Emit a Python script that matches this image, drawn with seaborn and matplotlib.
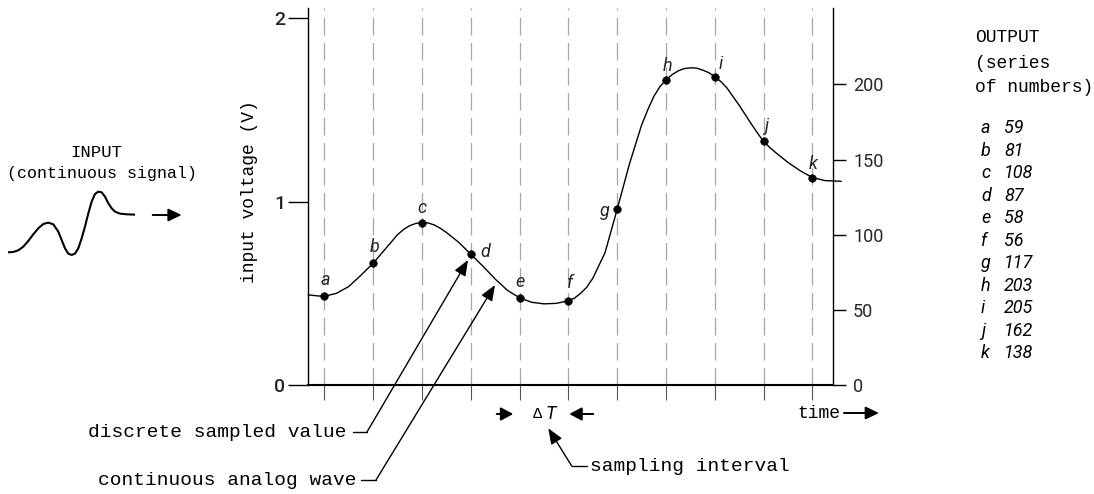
import numpy as np
import pandas as pd
import matplotlib
matplotlib.use("Agg")
import matplotlib.pyplot as plt
from matplotlib.lines import Line2D
import seaborn as sns

W, H = 1094, 494

# sampled values (right axis, counts)
labels = ["a", "b", "c", "d", "e", "f", "g", "h", "i", "j", "k"]
values = [59, 81, 108, 87, 58, 56, 117, 203, 205, 162, 138]

# continuous wave (sample index, counts)
wave_t = [0.67, 0.85, 1.0, 1.25, 1.5, 1.75, 2.0, 2.25, 2.5, 2.625, 2.75, 2.875, 3.0,
          3.125, 3.25, 3.375, 3.5, 3.75, 4.0, 4.25, 4.5, 4.75, 5.0, 5.25, 5.5, 5.75,
          6.0, 6.125, 6.25, 6.375, 6.5, 6.75, 7.0, 7.25, 7.5, 7.625, 7.75, 7.875, 8.0,
          8.125, 8.25, 8.375, 8.5, 8.625, 8.75, 8.875, 9.0, 9.125, 9.25, 9.5, 9.75,
          9.875, 10.0, 10.125, 10.25, 10.5, 10.75, 11.0, 11.25, 11.59]
wave_v = [60, 59.3, 59, 61, 65.5, 73, 81, 90.5, 100, 103.5, 106, 107.5, 108,
          107.8, 106.5, 104.3, 101.5, 95, 87, 79, 70.5, 63, 58, 55, 54, 54.3,
          56, 57.8, 61, 65, 71, 88, 117, 147, 173, 183, 192, 198.5, 203,
          206.5, 209, 210.5, 211, 210.8, 209.5, 207.8, 205, 201.8, 197.5, 186, 173.5,
          167.5, 162, 158, 154.5, 148, 142.5, 138, 136, 135.5]

# little input signal sketch on the left
signal_x = [25, 40, 55, 70, 85, 100, 115, 130, 145, 160, 175, 185, 195, 205, 215, 225,
            235, 245, 255, 265, 275, 285, 295, 305, 315, 325, 335, 345, 360, 380, 405]
signal_y = [8, 9, 14, 25, 42, 62, 80, 93, 97, 92, 70, 45, 20, 4, 0, 4,
            20, 50, 85, 125, 160, 183, 190, 188, 175, 155, 140, 130, 124, 122, 121]

volt_ticks = [0, 1, 2]
count_ticks = [0, 50, 100, 150, 200]

label_offsets = [(1, 16), (1, 16), (0, 15), (15, 2), (0, 16), (2, 18),
                 (-12, -2), (1, 14), (6, 13), (2, 15), (1, 14)]

samples = pd.DataFrame({"label": labels, "pos": range(1, len(labels) + 1), "value": values})

sns.set_theme(style="white")
plt.rcParams["font.family"] = ["Liberation Mono", "DejaVu Sans"]
SANS = ["Roboto", "DejaVu Sans"]

fig = plt.figure(figsize=(W / 100, H / 100), dpi=100)
fig.patch.set_facecolor("white")


def fx(x):
    return x / W


def fy(y):
    return 1 - y / H


ax = fig.add_axes([fx(308), fy(385), (833 - 308) / W, (385 - 8) / H])
ax2 = ax.twinx()

for p in samples["pos"]:
    ax.axvline(p, color="#a6a6a6", lw=0.9, ls=(0, (14, 6)), zorder=0)

sns.lineplot(x=wave_t, y=wave_v, ax=ax2, color="black", lw=1.0, sort=False, estimator=None)
for ln in ax2.lines:
    ln.set_clip_on(False)
    ln.set_solid_joinstyle("round")
sns.scatterplot(data=samples, x="pos", y="value", ax=ax2, color="black", s=30,
                edgecolor="black", zorder=5, clip_on=False)

for (lab, p, v), (dx, dy) in zip(samples[["label", "pos", "value"]].values, label_offsets):
    ax2.annotate(lab, (p, v), xytext=(dx * 0.72, dy * 0.72), textcoords="offset points",
                 ha="center", va="center", fontstyle="italic", family=SANS, fontsize=13)

ax.set_xlim(0.666, 11.42)
ax.set_ylim(0, 2.056)
ax2.set_ylim(0, 250.8)
ax.set_xticks(samples["pos"])
ax.set_xticklabels([])
ax.set_yticks(volt_ticks)
ax.set_yticklabels([str(t) for t in volt_ticks], family=SANS, fontsize=14, fontweight="medium")
ax2.set_yticks(count_ticks)
ax2.set_yticklabels([str(t) for t in count_ticks], family=SANS, fontsize=13)
ax.set_xlabel("")
ax.set_ylabel("")
ax2.set_xlabel("")
ax2.set_ylabel("")

ax.tick_params(axis="x", direction="out", length=11, width=0.8, color="#555555", bottom=True)
ax.tick_params(axis="y", direction="out", length=14.4, width=1.0, pad=2, color="black", left=True)
ax2.tick_params(axis="y", direction="out", length=9.4, width=1.0, pad=5, color="black", right=True)

for s in ["top", "right"]:
    ax.spines[s].set_visible(False)
for s in ["top", "left", "bottom"]:
    ax2.spines[s].set_visible(False)
ax.spines["left"].set_color("black")
ax.spines["left"].set_linewidth(1.0)
ax.spines["bottom"].set_color("black")
ax.spines["bottom"].set_linewidth(1.5)
ax2.spines["right"].set_color("black")
ax2.spines["right"].set_linewidth(1.0)
ax.set_facecolor("none")
ax2.set_facecolor("none")

# input sketch
ins = fig.add_axes([fx(8.3), fy(258.3), (135 - 8.3) / W, (258.3 - 188.3) / H])
sns.lineplot(x=signal_x, y=signal_y, ax=ins, color="black", lw=1.5, sort=False, estimator=None)
ins.set_xlim(25, 405)
ins.set_ylim(-10, 200)
ins.axis("off")

# overlay for annotations in pixel space
ov = fig.add_axes([0, 0, 1, 1])
ov.set_xlim(0, W)
ov.set_ylim(H, 0)
ov.axis("off")
ov.patch.set_alpha(0)


def arrow(start, tip, hl=0.95, hw=0.38, lw=1.0):
    ov.annotate("", xy=tip, xytext=start,
                arrowprops=dict(arrowstyle=f"-|>,head_length={hl},head_width={hw}",
                                color="black", lw=lw, shrinkA=0, shrinkB=0,
                                mutation_scale=10))


txt = dict(color="black", va="center")
ov.text(96, 152, "INPUT", ha="center", fontsize=12.5, **txt)
ov.text(102, 173, "(continuous signal)", ha="center", fontsize=12, **txt)
arrow((152.7, 215), (181.7, 215), hl=0.8, hw=0.38, lw=1.4)

ov.text(250, 192, "input voltage (V)", ha="center", rotation=90, fontsize=13, **txt)

ov.text(975, 38, "OUTPUT", ha="left", fontsize=13, **txt)
ov.text(975, 63, "(series", ha="left", fontsize=13, **txt)
ov.text(975, 88, "of numbers)", ha="left", fontsize=13, **txt)
for i, (lab, v) in enumerate(zip(labels, values)):
    yy = 128 + 22.5 * i
    ov.text(981, yy, lab, ha="left", fontstyle="italic", family=SANS, fontsize=13, **txt)
    ov.text(1004, yy, str(v), ha="left", fontstyle="italic", family=SANS, fontsize=13, **txt)

# bottom annotations
ov.text(346, 432, "discrete sampled value", ha="right", fontsize=14, **txt)
ov.add_line(Line2D([353, 367], [432, 432], color="black", lw=1.0))
arrow((367, 432), (468, 260))

ov.text(356, 480, "continuous analog wave", ha="right", fontsize=14, **txt)
ov.add_line(Line2D([361, 376], [480, 480], color="black", lw=1.0))
arrow((376, 480), (495, 285))

arrow((496.7, 414), (513.3, 414), hl=0.75, hw=0.4, lw=1.4)
arrow((593.3, 414), (569.3, 414), hl=0.75, hw=0.4, lw=1.4)
ov.text(537, 414, "\u0394", ha="center", fontsize=11, **txt)
ov.text(551, 414, "T", ha="center", fontstyle="italic", family=SANS, fontsize=13, **txt)

ov.text(590, 466, "sampling interval", ha="left", fontsize=14, **txt)
ov.add_line(Line2D([586.7, 571.7], [466, 466], color="black", lw=1.0))
arrow((571.7, 466), (548.3, 428.3))

ov.text(797, 413, "time", ha="left", fontsize=13, **txt)
arrow((844, 413), (879, 413), hl=0.8, hw=0.38, lw=1.4)

fig.savefig("out.png", dpi=100, facecolor="white")
